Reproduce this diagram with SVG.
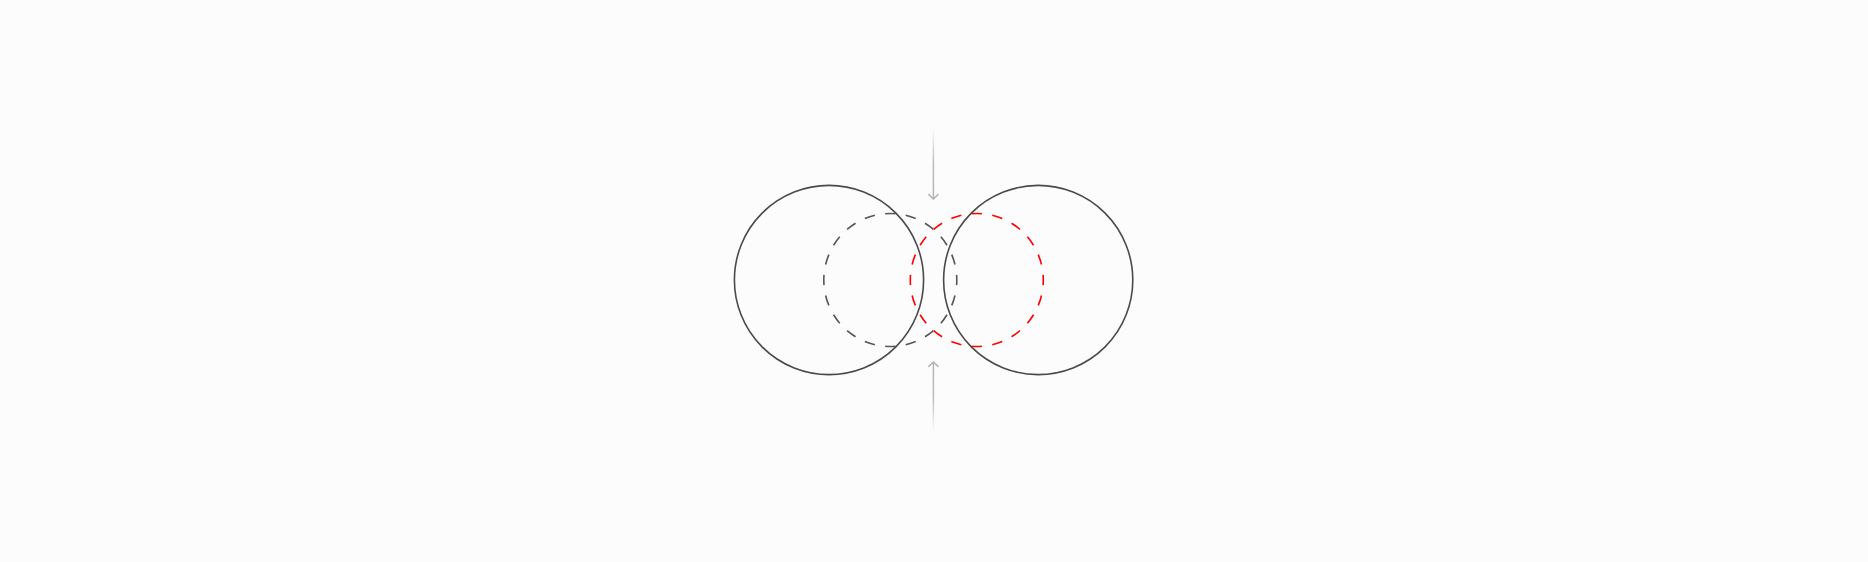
<svg xmlns="http://www.w3.org/2000/svg" width="1868" height="562" viewBox="0 0 1868 562">
  <defs>
    <linearGradient id="gDown" x1="0" y1="128" x2="0" y2="199" gradientUnits="userSpaceOnUse">
      <stop offset="0" stop-color="#b4b4b4" stop-opacity="0"/>
      <stop offset="0.5" stop-color="#b4b4b4" stop-opacity="0.9"/>
      <stop offset="1" stop-color="#b4b4b4"/>
    </linearGradient>
    <linearGradient id="gUp" x1="0" y1="432" x2="0" y2="362" gradientUnits="userSpaceOnUse">
      <stop offset="0" stop-color="#b4b4b4" stop-opacity="0"/>
      <stop offset="0.5" stop-color="#b4b4b4" stop-opacity="0.9"/>
      <stop offset="1" stop-color="#b4b4b4"/>
    </linearGradient>
    <style>
      .solid { fill: none; stroke: #4a4a4a; stroke-width: 1.6; }
      .dash { fill: none; stroke-width: 1.6; stroke-dasharray: 10 10; stroke-dashoffset: 5; }
      .grey { stroke: #555555; }
      .red { stroke: #ff0000; }
      .arrow { fill: none; stroke-width: 1.5; stroke-linecap: round; stroke-linejoin: round; }
    </style>
  </defs>
  <rect width="1868" height="562" fill="#fcfcfc"/>
  <g id="dashed-left">
    <circle class="dash grey" cx="890.3" cy="280" r="66.5" pathLength="400"/>
  </g>
  <g id="dashed-right">
    <circle class="dash red" cx="976.8" cy="280" r="66.5" pathLength="400"/>
  </g>
  <g id="circle-left">
    <circle class="solid" cx="829" cy="280" r="94.6"/>
  </g>
  <g id="circle-right">
    <circle class="solid" cx="1038.2" cy="280" r="94.6"/>
  </g>
  <g id="connectors">
    <path class="arrow" d="M933.4 128 V199" stroke="url(#gDown)"/>
    <path class="arrow" d="M928.8 194.6 L933.4 199 L938 194.6" stroke="#b4b4b4"/>
    <path class="arrow" d="M933.4 432 V362" stroke="url(#gUp)"/>
    <path class="arrow" d="M928.8 366.4 L933.4 362 L938 366.4" stroke="#b4b4b4"/>
  </g>
</svg>
